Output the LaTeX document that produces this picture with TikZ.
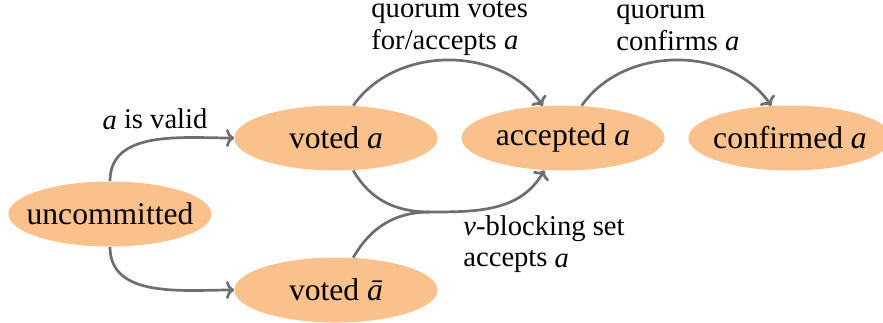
\documentclass[tikz,border=0pt]{standalone}
\usepackage{fontspec}
\setmainfont{Liberation Serif}
\usepackage{xcolor}
\usetikzlibrary{shapes.geometric,arrows.meta}
\definecolor{peach}{RGB}{251,193,141}
\definecolor{edgegray}{RGB}{110,110,110}

\begin{document}
\begin{tikzpicture}[x=0.5pt,y=0.5pt,
                state/.style={ellipse,fill=peach,minimum width=101.5pt,minimum height=32.5pt,inner ysep=0pt,inner xsep=-8pt,font=\fontsize{15.8}{19}\selectfont},
                edge/.style={draw=edgegray,line width=1.35pt,-{To[length=4pt,width=9pt]}},
                lbl/.style={align=left,inner sep=0pt,font=\fontsize{14.3}{16}\selectfont}]
                \useasboundingbox (0,0) rectangle (883,322);

                \node[state] (uncommitted) at (110,108) {uncommitted};
                \node[state] (votedA) at (336,184) {voted \textit{a}};
                \node[state] (votedAbar) at (336,32) {voted \textit{\=a}};
                \node[state] (acceptedA) at (563,184) {accepted \textit{a}};
                \node[state] (confirmedA) at (790,184) {confirmed \textit{a}};
                \coordinate (merge) at (430,110);

                \node[lbl,anchor=base] (valid) at (155,193) {\textit{a} is valid};
                \node[lbl,anchor=base west] (quorumvotes) at (371,272) {quorum votes\\for/accepts \textit{a}};
                \node[lbl,anchor=base west] (quorumconf) at (616,271) {quorum\\confirms \textit{a}};
                \node[lbl,anchor=base west] (vblocking) at (463,55) {\textit{v}-blocking set\\accepts \textit{a}};

                \draw[edge] (uncommitted.north) to[out=90,in=180] (votedA.west);
                \draw[edge] (uncommitted.south) to[out=-90,in=180] (votedAbar.west);
                \draw[edge] (votedA.62) to[out=55,in=125] (acceptedA.122);
                \draw[edge] (acceptedA.60) to[out=55,in=125] (confirmedA.120);
                \draw[edge,-] (votedAbar.62) to[out=60,in=180] (merge);
                \draw[edge] (votedA.-62) to[out=-60,in=180] (merge) to[out=0,in=-120] (acceptedA.-120);
            \end{tikzpicture}
\end{document}
